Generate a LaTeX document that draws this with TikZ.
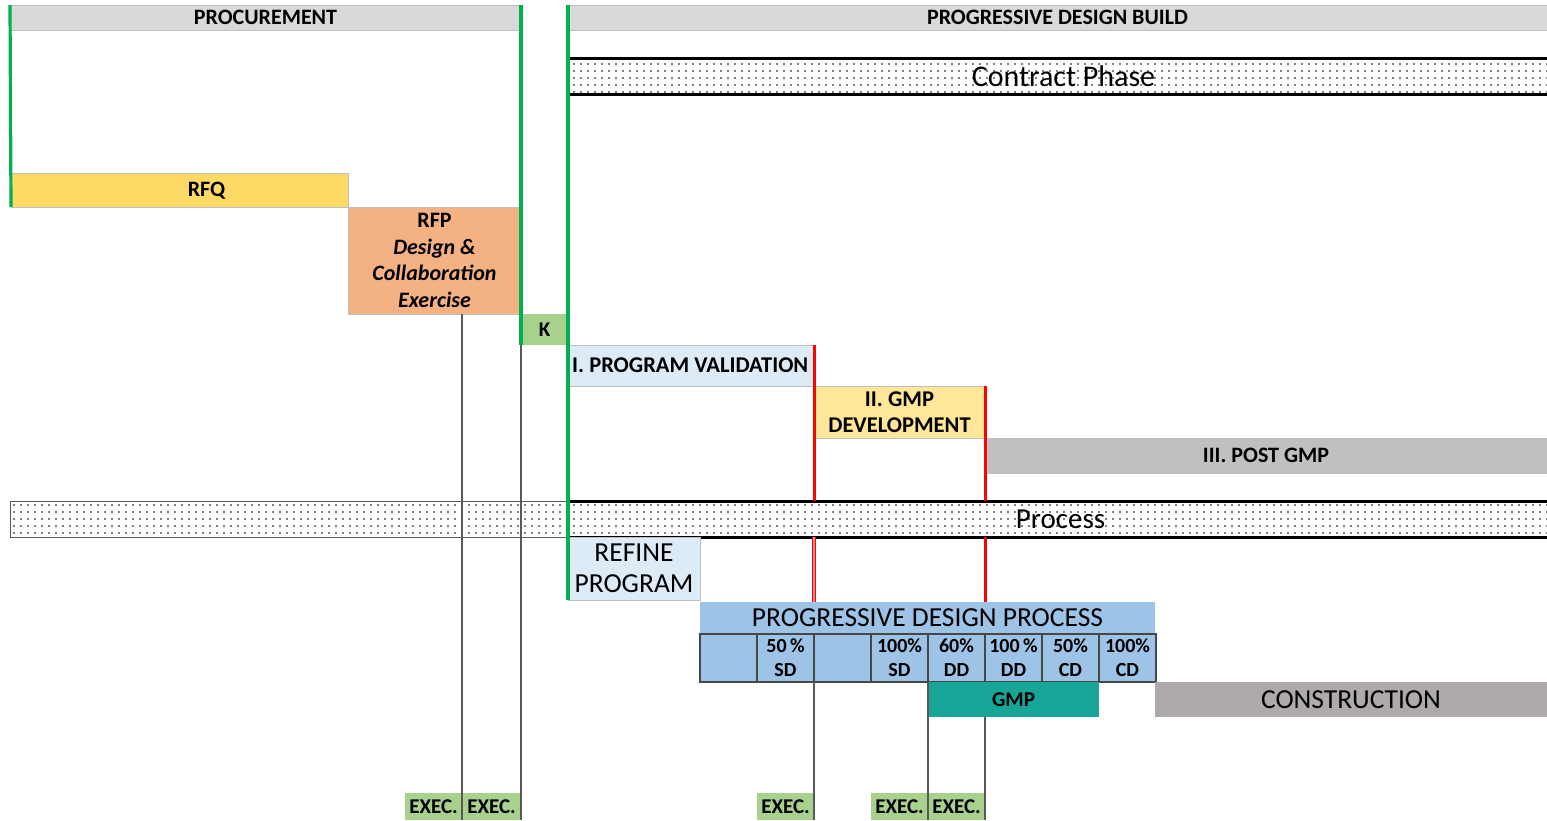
\documentclass[tikz,border=0pt]{standalone}
\usepackage{fontspec}
\setmainfont{Carlito}
\usetikzlibrary{patterns.meta}
\definecolor{hdr}{HTML}{D9D9D9}
\definecolor{rfqc}{HTML}{FFD966}
\definecolor{rfpc}{HTML}{F4B183}
\definecolor{kc}{HTML}{A9D18E}
\definecolor{pvc}{HTML}{DDEBF7}
\definecolor{gdc}{HTML}{FFE699}
\definecolor{postc}{HTML}{C0C0C0}
\definecolor{pdpc}{HTML}{9DC3E6}
\definecolor{gmpc}{HTML}{16A596}
\definecolor{conc}{HTML}{AEAAAA}
\definecolor{grn}{HTML}{00B050}
\definecolor{gln}{HTML}{595959}
\definecolor{bord}{HTML}{BFBFBF}
\tikzset{
  box/.style={anchor=north west, inner sep=0pt, outer sep=0pt, draw=bord, line width=0.6pt, align=center, font=\bfseries},
  cell/.style={anchor=north west, inner sep=0pt, outer sep=0pt, draw=gln!80!black, line width=1.4pt, fill=pdpc, align=center, font=\bfseries\fontsize{20}{24}\selectfont, minimum width=57pt, minimum height=48pt},
  execbox/.style={anchor=north west, inner sep=0pt, outer sep=0pt, fill=kc, font=\bfseries\fontsize{21}{22}\selectfont, minimum height=27pt},
  dotband/.style={anchor=north west, inner sep=0pt, outer sep=0pt, pattern={Dots[distance=7pt,radius=0.9pt]}, pattern color=black},
  grline/.style={grn, line width=3.2pt},
  rdline/.style={red, line width=3pt},
  gyline/.style={gln, line width=2.4pt},
}
\begin{document}
\begin{tikzpicture}[x=1pt,y=-1pt]
\useasboundingbox (0,0) rectangle (1547,820);
% headers
\node[box, fill=hdr, minimum width=511pt, minimum height=25pt, font=\bfseries\fontsize{22}{24}\selectfont] (proc) at (10,5) {PROCUREMENT};
\node[box, fill=hdr, minimum width=979pt, minimum height=25pt, font=\bfseries\fontsize{22}{24}\selectfont] (pdb) at (568,5) {PROGRESSIVE DESIGN BUILD};
% contract band
\node[dotband, minimum width=979pt, minimum height=36pt] (contract) at (568,58) {};
\draw[line width=3pt] (contract.north west) -- (contract.north east);
\draw[line width=3pt] (contract.south west) -- (contract.south east);
\node[font=\fontsize{30}{32}\selectfont] (contractT) at ([xshift=6pt]contract.center) {Contract Phase};
% process band
\node[dotband, draw=gln, line width=1pt, minimum width=558pt, minimum height=36pt] (procL) at (10,501) {};
\node[dotband, minimum width=979pt, minimum height=36pt] (procR) at (568,501) {};
\draw[line width=3pt] (procR.north west) -- (procR.north east);
\draw[line width=3pt] (procR.south west) -- (procR.south east);
\node[font=\fontsize{29}{31}\selectfont] (procT) at ([xshift=3pt]procR.center) {Process};
% phases
\node[box, fill=rfqc, minimum width=337pt, minimum height=34pt] (rfq) at (11,173) {};
\node[font=\bfseries\fontsize{22}{24}\selectfont] (rfqT) at ([xshift=27pt,yshift=-1pt]rfq.center) {RFQ};
\node[box, fill=rfpc, minimum width=173pt, minimum height=107pt, font=\bfseries\fontsize{22}{26.7}\selectfont] (rfp) at (348,207) {RFP\\\textit{Design \&}\\\textit{Collaboration}\\\textit{Exercise}};
\node[box, fill=kc, draw=none, minimum width=47pt, minimum height=31pt, font=\bfseries\fontsize{21}{22}\selectfont] (k) at (521,314) {K};
\node[box, fill=pvc, minimum width=246pt, minimum height=41pt] (pv) at (568,345) {};
\node[anchor=west, inner sep=0pt, font=\bfseries\fontsize{22.5}{24}\selectfont] (pvT) at ([xshift=4pt]pv.west) {I. PROGRAM VALIDATION};
\node[box, fill=gdc, minimum width=171pt, minimum height=52pt, font=\bfseries\fontsize{22.5}{26}\selectfont] (gd) at (814,386) {II. GMP\\DEVELOPMENT};
\node[box, fill=postc, minimum width=562pt, minimum height=35pt, font=\bfseries\fontsize{22}{24}\selectfont] (post) at (985,438) {III. POST GMP};
\node[box, fill=pvc, minimum width=132pt, minimum height=63pt, font=\fontsize{27.5}{31}\selectfont] (refine) at (568,537) {REFINE\\PROGRAM};
\node[box, fill=pdpc, draw=none, minimum width=455pt, minimum height=32pt, font=\fontsize{27.5}{29}\selectfont] (pdp) at (700,602) {PROGRESSIVE DESIGN PROCESS};
% grid
\node[cell] (c1) at (700,634) {};
\node[cell] (c2) at (757,634) {50\,\%\\SD};
\node[cell] (c3) at (814,634) {};
\node[cell] (c4) at (871,634) {100\%\\SD};
\node[cell] (c5) at (928,634) {60\%\\DD};
\node[cell] (c6) at (985,634) {100\,\%\\DD};
\node[cell] (c7) at (1042,634) {50\%\\CD};
\node[cell] (c8) at (1099,634) {100\%\\CD};
\node[box, fill=gmpc, draw=none, minimum width=171pt, minimum height=35pt, font=\bfseries\fontsize{21}{22}\selectfont] (gmp) at (928,682) {GMP};
\node[box, fill=conc, draw=none, minimum width=392pt, minimum height=35pt, font=\fontsize{27.5}{29}\selectfont] (con) at (1155,682) {CONSTRUCTION};
% exec boxes
\node[execbox, minimum width=57pt] (e1) at (405,793) {EXEC.};
\node[execbox, minimum width=59pt] (e2) at (462,793) {EXEC.};
\node[execbox, minimum width=57pt] (e3) at (757,793) {EXEC.};
\node[execbox, minimum width=57pt] (e4) at (871,793) {EXEC.};
\node[execbox, minimum width=57pt] (e5) at (928,793) {EXEC.};
% gray lines
\draw[gyline] (rfp.south -| e1.east) -- (e1.south east);
\draw[gyline] (k.south west) -- (e2.south east);
\draw[gyline] (c2.south east) -- (e3.south east);
\draw[gyline] (gmp.north west) -- (e4.south east);
\draw[gyline] (gmp.south -| gd.east) -- (e5.south east);
% green lines
\draw[grline] (proc.north west) -- (rfq.south west);
\draw[grline] (proc.north east) -- (k.south west);
\draw[grline] (pdb.north west) -- (refine.south west);
% red lines
\draw[rdline] (pv.north east) -- (pv.east |- procR.north);
\draw[red, line width=1pt, double=red!45, double distance=1.2pt] (pv.east |- procR.south) -- (pv.east |- pdp.north);
\draw[rdline] (gd.north east) -- (gd.east |- procR.north);
\draw[rdline] (gd.east |- procR.south) -- (gd.east |- pdp.north);
\end{tikzpicture}
\end{document}
